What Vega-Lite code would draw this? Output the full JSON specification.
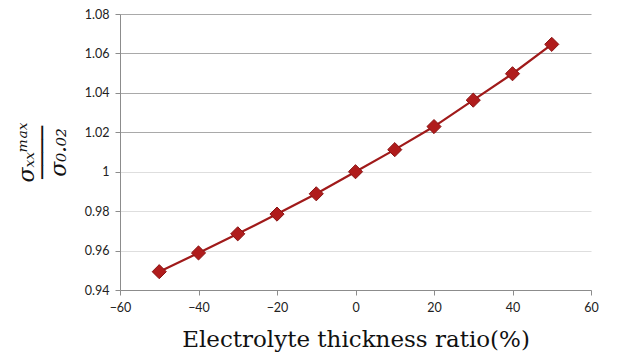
{
  "$schema": "https://vega.github.io/schema/vega-lite/v6.json",
  "autosize": "none",
  "padding": {"left": 120, "top": 14, "right": 35, "bottom": 66},
  "width": 471,
  "height": 276,
  "background": "white",
  "config": {"view": {"stroke": null}},
  "data": {"values": [
    {"ratio": -50, "stress": 0.9493},
    {"ratio": -40, "stress": 0.9588},
    {"ratio": -30, "stress": 0.9685},
    {"ratio": -20, "stress": 0.9785},
    {"ratio": -10, "stress": 0.9888},
    {"ratio": 0, "stress": 1.0},
    {"ratio": 10, "stress": 1.0112},
    {"ratio": 20, "stress": 1.0229},
    {"ratio": 30, "stress": 1.0363},
    {"ratio": 40, "stress": 1.0497},
    {"ratio": 50, "stress": 1.0646}
  ]},
  "encoding": {
    "x": {"field": "ratio", "type": "quantitative",
      "scale": {"domain": [-60, 60], "nice": false, "zero": false},
      "axis": {"values": [-60, -40, -20, 0, 20, 40, 60], "grid": false,
        "title": "Electrolyte thickness ratio(%)",
        "titleFont": "DejaVu Serif", "titleFontSize": 23, "titleFontWeight": "normal", "titleColor": "#111",
        "titlePadding": 15,
        "labelFont": "Lato", "labelFontSize": 12.5, "labelColor": "#222", "labelPadding": 6,
        "domainColor": "#8c8c8c", "tickColor": "#8c8c8c", "tickSize": 5, "labelFlush": false}},
    "y": {"field": "stress", "type": "quantitative",
      "scale": {"domain": [0.94, 1.08], "nice": false, "zero": false},
      "axis": {"values": [0.94, 0.96, 0.98, 1.0, 1.02, 1.04, 1.06, 1.08],
        "labelExpr": "datum.value == 1 ? '1' : format(datum.value, '.2f')",
        "grid": true,
        "gridColor": {"condition": {"test": "datum.value >= 1.01", "value": "#a9a9a9"}, "value": "#dedede"},
        "gridWidth": 1.2,
        "title": ["σₓₓᵐᵃˣ", "────", "σ₀.₀₂"],
        "titleFont": "DejaVu Serif", "titleFontSize": 22, "titleFontWeight": "normal", "titleFontStyle": "italic", "titleColor": "#111",
        "titleLineHeight": 16,
        "titlePadding": 14,
        "labelFont": "Lato", "labelFontSize": 12.5, "labelColor": "#222", "labelPadding": 6,
        "domainColor": "#8c8c8c", "tickColor": "#8c8c8c", "tickSize": 5, "labelFlush": false}}
  },
  "layer": [
    {"mark": {"type": "line", "color": "#a01a1a", "strokeWidth": 2.2}},
    {"mark": {"type": "point", "shape": "diamond", "filled": true, "size": 200, "color": "#b01c1c", "stroke": "#8a1515", "strokeWidth": 1, "opacity": 1}}
  ]
}
